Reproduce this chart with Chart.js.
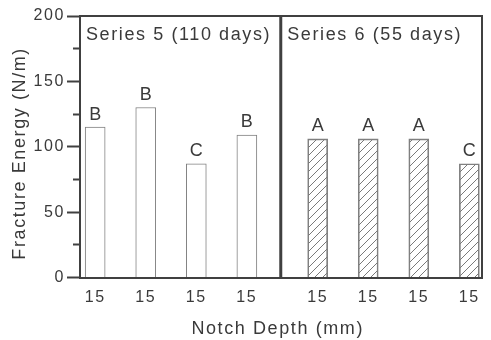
<!DOCTYPE html>
<html><head><meta charset="utf-8">
<script src="https://cdn.jsdelivr.net/npm/chart.js@4"></script>
<style>html,body{margin:0;padding:0;background:#fff;} canvas{display:block;}</style>
</head><body>
<canvas id="c" width="491" height="340"></canvas>
<script>
// ---- data ----
const notchDepths = ['15', '15', '15', '15', '15', '15', '15', '15'];
const groupTitles = ['Series 5 (110 days)', 'Series 6 (55 days)'];
const series5Energy = [115, 130, 87, 109];
const series6Energy = [106, 106, 106, 87];
const series5Letters = ['B', 'B', 'C', 'B'];
const series6Letters = ['A', 'A', 'A', 'C'];
const yAxisMin = 0, yAxisMax = 200, yMinorStep = 25, yMajorStep = 50;
const xTitle = 'Notch Depth (mm)';
const yTitle = 'Fracture Energy (N/m)';

// ---- style / layout ----
const FONT = "'Liberation Sans', Arial, Helvetica, sans-serif";
const TEXT = '#3a3a3a';
const LINE = '#404040';
const BAR_EDGE = '#808080';
const SPACING = '1.6px';
const GROUP_GAP = 0.4;
const slot = i => i + (i >= series5Energy.length ? GROUP_GAP : 0);
const slots = notchDepths.map((_, i) => slot(i));

function hatchPattern() {
  const c = document.createElement('canvas');
  c.width = 8; c.height = 8;
  const g = c.getContext('2d');
  g.strokeStyle = '#7a7a7a'; g.lineWidth = 1;
  g.beginPath();
  g.moveTo(0, 8); g.lineTo(8, 0);
  g.moveTo(-2, 2); g.lineTo(2, -2);
  g.moveTo(6, 10); g.lineTo(10, 6);
  g.stroke();
  const base = document.createElement('canvas').getContext('2d');
  return base.createPattern(c, 'repeat');
}

const panelPlugin = {
  id: 'panels',
  beforeLayout(chart) { chart.ctx.letterSpacing = SPACING; },
  beforeDraw(chart) { chart.ctx.letterSpacing = SPACING; },
  afterDraw(chart) {
    const { ctx, chartArea: a, scales: { x } } = chart;
    const n5 = series5Energy.length;
    const divX = (x.getPixelForValue(slots[n5 - 1]) + x.getPixelForValue(slots[n5])) / 2 - 1.5;
    ctx.save();
    ctx.strokeStyle = LINE;
    ctx.lineWidth = 2;
    ctx.beginPath();
    ctx.moveTo(a.left, a.top); ctx.lineTo(a.right, a.top); ctx.lineTo(a.right, a.bottom);
    ctx.stroke();
    ctx.lineWidth = 3;
    ctx.beginPath();
    ctx.moveTo(divX, a.top); ctx.lineTo(divX, a.bottom);
    ctx.stroke();
    ctx.fillStyle = TEXT;
    ctx.font = '18px ' + FONT;
    ctx.letterSpacing = SPACING;
    ctx.textAlign = 'left';
    ctx.textBaseline = 'alphabetic';
    ctx.fillText(groupTitles[0], a.left + 6, a.top + 23.5);
    ctx.fillText(groupTitles[1], divX + 6.5, a.top + 23.5);
    ctx.textAlign = 'center';
    chart.data.datasets.forEach((ds, di) => {
      chart.getDatasetMeta(di).data.forEach((bar, i) => {
        ctx.fillText(ds.letters[i], bar.x + 0.8, bar.y - 7.5);
      });
    });
    ctx.restore();
  }
};

new Chart(document.getElementById('c'), {
  type: 'bar',
  data: {
    datasets: [
      {
        label: groupTitles[0],
        data: series5Energy.map((v, i) => ({ x: slot(i), y: v })),
        letters: series5Letters,
        backgroundColor: '#ffffff',
        borderColor: BAR_EDGE,
        borderWidth: 1,
        barThickness: 20,
        grouped: false
      },
      {
        label: groupTitles[1],
        data: series6Energy.map((v, i) => ({ x: slot(i + series5Energy.length), y: v })),
        letters: series6Letters,
        backgroundColor: hatchPattern(),
        borderColor: BAR_EDGE,
        borderWidth: 1,
        barThickness: 20,
        grouped: false
      }
    ]
  },
  options: {
    responsive: false,
    animation: false,
    layout: { padding: { top: 16, right: 9, left: 0, bottom: 0 } },
    plugins: { legend: { display: false }, tooltip: { enabled: false } },
    scales: {
      x: {
        type: 'linear',
        offset: false,
        min: -0.30,
        max: slots[slots.length - 1] + 0.25,
        afterBuildTicks: s => { s.ticks = slots.map(v => ({ value: v })); },
        afterFit: s => { s.height = 62.5; },
        ticks: {
          autoSkip: false, maxRotation: 0, padding: 10,
          color: TEXT, font: { family: FONT, size: 16 },
          callback: (v, i) => notchDepths[i]
        },
        grid: { display: false, drawTicks: false, offset: false },
        border: { display: true, width: 2, color: LINE },
        title: {
          display: true, text: xTitle + '\u00a0', color: TEXT,
          font: { family: FONT, size: 18 }, padding: { top: 0, bottom: 0 }
        }
      },
      y: {
        min: yAxisMin, max: yAxisMax,
        afterFit: s => { s.width = 80; },
        ticks: {
          stepSize: yMinorStep, autoSkip: false, padding: 2,
          color: TEXT, font: { family: FONT, size: 16 },
          callback: v => (v % yMajorStep === 0 ? String(v) : '')
        },
        grid: {
          drawOnChartArea: false, drawTicks: true, tickLength: 13, tickWidth: 2,
          tickColor: LINE,
          tickBorderDash: c => (c.tick && c.tick.value % yMajorStep !== 0 ? [0, 6, 20, 0] : [])
        },
        border: { display: true, width: 2, color: LINE },
        title: {
          display: true, text: yTitle + '\u00a0\u00a0', color: TEXT,
          font: { family: FONT, size: 18 }, padding: { top: 9, bottom: 0 }
        }
      }
    }
  },
  plugins: [panelPlugin]
});
</script>
</body></html>
